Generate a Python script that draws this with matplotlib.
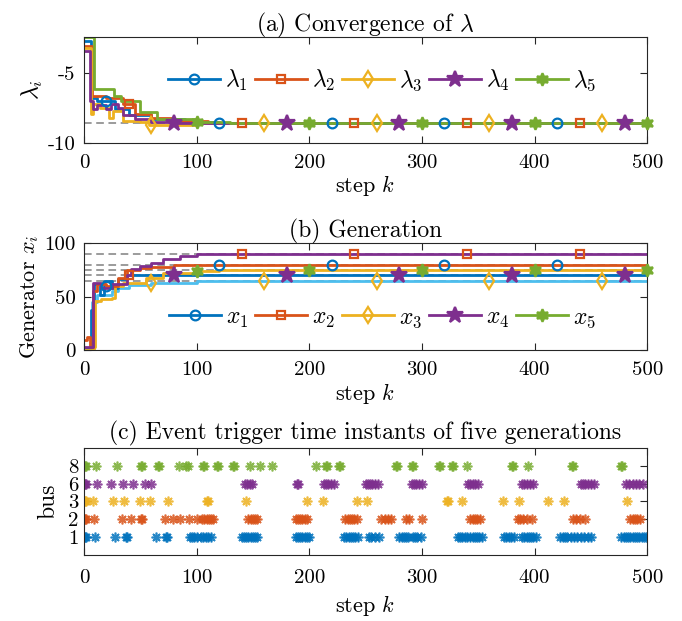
import numpy as np
import matplotlib
matplotlib.use("Agg")
from matplotlib import pyplot as plt
from matplotlib.lines import Line2D

plt.rcParams['font.family'] = 'serif'
plt.rcParams['font.serif'] = ['cmr10', 'DejaVu Serif']
plt.rcParams['mathtext.fontset'] = 'cm'
plt.rcParams['axes.unicode_minus'] = False
plt.rcParams['axes.formatter.use_mathtext'] = False

# MATLAB default colours
blue, orange, yellow, purple, green, lblue = '#0072BD', '#D95319', '#EDB120', '#7E2F8E', '#77AC30', '#4DBEEE'

# ---- (a) lambda trajectories (step breakpoints) ----
lam1_k = [0, 6, 12, 20, 28, 40, 60, 90, 120]
lam1_v = [-2.7, -6.8, -7.0, -7.0, -7.6, -8.0, -8.3, -8.5, -8.6]
lam2_k = [0, 7, 20, 35, 45, 60, 80, 110]
lam2_v = [-3.0, -6.6, -6.8, -7.2, -7.9, -8.2, -8.4, -8.6]
lam3_k = [0, 6, 8, 14, 22, 26, 35, 50, 58, 80, 100]
lam3_v = [-3.2, -7.9, -7.2, -7.5, -8.2, -7.7, -8.4, -8.5, -8.75, -8.7, -8.6]
lam4_k = [0, 5, 8, 12, 20, 24, 30, 35, 45, 60, 80]
lam4_v = [-3.4, -7.0, -7.6, -7.3, -7.6, -7.2, -7.5, -8.0, -8.3, -8.5, -8.55]
lam5_k = [0, 9, 27, 33, 50, 65, 100, 130]
lam5_v = [-2.4, -6.1, -6.6, -7.0, -7.8, -8.3, -8.5, -8.6]
lam_star = -8.6

# ---- (b) generation trajectories ----
x1_k = [0, 3, 5, 8, 12, 20, 30, 38, 50, 60, 80]
x1_v = [10, 12, 3, 55, 62, 60, 68, 75, 77, 78, 80]
x2_k = [0, 8, 15, 25, 38, 42, 50, 60, 70, 85, 100]
x2_v = [3, 63, 58, 62, 70, 76, 79, 82, 85, 88, 90]
x3_k = [0, 7, 12, 25, 30, 40, 60, 100]
x3_v = [0, 45, 52, 55, 58, 61, 63, 65]
x4_k = [0, 6, 9, 14, 18, 25, 30, 38]
x4_v = [2, 38, 62, 52, 65, 58, 67, 70]
x5_k = [0, 9, 10, 15, 25, 28, 35, 55, 70, 100, 120]
x5_v = [0, 3, 46, 48, 49, 60, 63, 68, 72, 74, 75]
x_star = [65, 70, 75, 80, 90]
x_line_colors = [orange, purple, lblue, blue, yellow]

# ---- (c) event trigger instants ----
bus_labels = ['1', '2', '3', '6', '8']
ev1 = [0, 1, 2, 10, 28, 37, 38, 64, 73, 74, 94, 96, 98, 100, 104, 106, 108, 110, 113,
       140, 142, 144, 146, 148, 150, 152, 154, 188, 190, 192, 194, 196, 198, 200,
       231, 233, 235, 237, 239, 241, 243, 253, 255, 258, 262, 280, 282, 284, 286, 288, 292, 294, 296, 299,
       332, 334, 336, 338, 340, 343, 345, 347, 349, 351, 353, 373, 375, 377, 379, 382,
       389, 391, 393, 395, 397, 399, 401, 423, 425, 427, 429, 432, 435, 438, 441, 444, 447, 450,
       477, 479, 481, 483, 485, 487, 489, 491, 493, 495, 497, 499]
ev2 = [0, 1, 2, 9, 34, 42, 51, 52, 72, 79, 85, 93, 100, 105, 107, 109, 111, 113, 115,
       146, 148, 150, 152, 154, 188, 190, 192, 194, 196, 198, 232, 234, 236, 238, 240, 242,
       264, 267, 270, 273, 286, 289, 300, 343, 345, 347, 349, 352, 385, 387, 390, 393, 398,
       434, 437, 440, 445, 485, 487, 489, 491, 494]
ev3 = [0, 1, 2, 8, 26, 36, 50, 59, 75, 109, 110, 144, 198, 212, 242, 251,
       322, 323, 336, 372, 386, 412, 426, 482]
ev4 = [0, 1, 2, 12, 24, 35, 44, 54, 60, 143, 145, 147, 149, 189, 190, 213, 215, 217, 219, 222,
       250, 252, 254, 256, 258, 261, 291, 293, 295, 297, 300, 341, 343, 345, 347, 350,
       389, 391, 393, 396, 399, 441, 443, 445, 447, 450, 453, 481, 484, 487, 490, 493, 496]
ev5 = [0, 1, 2, 11, 29, 51, 52, 66, 67, 84, 91, 92, 106, 107, 118, 119, 132, 133, 147, 156, 167,
       206, 215, 216, 226, 227, 277, 278, 291, 292, 315, 316, 327, 328, 340, 380, 381, 394, 433, 434, 477, 478]


def stepval(ks, vs, k):
    i = np.searchsorted(ks, k, side='right') - 1
    return vs[i]


def style(ax, lpad=1):
    ax.set_xlim(0, 500)
    ax.set_xticks([0, 100, 200, 300, 400, 500])
    ax.tick_params(direction='in', top=True, right=True, length=5, width=0.8,
                   labelsize=15, colors='#262626', labelcolor='black', pad=6)
    ax.tick_params(axis='x', pad=8)
    for s in ax.spines.values():
        s.set_color('#262626')
        s.set_linewidth(0.8)
    ax.set_xlabel('step $k$', fontsize=16, labelpad=lpad)


fig = plt.figure(figsize=(6.82, 6.21), dpi=100)

mk_style = [dict(marker='o', mfc='none'), dict(marker='s', mfc='none'),
            dict(marker='d', mfc='none'), dict(marker='*'), dict(marker=(6, 1, 0))]
mk_colors = [blue, orange, yellow, purple, green]
mk_sizes = [7, 6, 8, 12, 9]
LW = 2.0
MEW = 1.6

# ---------------- (a)
ax1 = fig.add_axes([0.123, 0.770, 0.826, 0.170])
ax1.axhline(lam_star, color='#808080', ls='--', lw=1.1, dashes=(5, 3), zorder=1)
lam_k = [lam1_k, lam2_k, lam3_k, lam4_k, lam5_k]
lam_v = [lam1_v, lam2_v, lam3_v, lam4_v, lam5_v]
handles = []
for i in range(5):
    ks = lam_k[i] + [500]
    vs = lam_v[i] + [lam_v[i][-1]]
    ax1.plot(ks, vs, drawstyle='steps-post', color=mk_colors[i], lw=LW, zorder=2)
for i in range(5):
    mks = np.arange(20 * (i + 1), 501, 100)
    ax1.plot(mks, [stepval(lam_k[i], lam_v[i], m) for m in mks], ls='none',
             color=mk_colors[i], ms=mk_sizes[i], mew=MEW, zorder=3, clip_on=False, **mk_style[i])
    handles.append(Line2D([], [], color=mk_colors[i], lw=LW, ms=mk_sizes[i], mew=MEW, **mk_style[i]))
ax1.set_ylim(-10, -2.4)
ax1.set_yticks([-10, -5])
style(ax1)
ax1.set_ylabel(r'$\lambda_i$', fontsize=17, labelpad=2)
ax1.set_title(r'(a) Convergence of $\lambda$', fontsize=17, pad=4)
ax1.legend(handles, [r'$\lambda_1$', r'$\lambda_2$', r'$\lambda_3$', r'$\lambda_4$', r'$\lambda_5$'],
           ncol=5, frameon=False, loc='center', bbox_to_anchor=(0.53, 0.59), fontsize=17,
           handlelength=2.2, columnspacing=0.3, handletextpad=0.2, borderpad=0.2)

# ---------------- (b)
ax2 = fig.add_axes([0.123, 0.436, 0.826, 0.172])
for v in x_star:
    ax2.axhline(v, color='#808080', ls='--', lw=1.1, dashes=(5, 3), zorder=1)
x_k = [x1_k, x2_k, x3_k, x4_k, x5_k]
x_v = [x1_v, x2_v, x3_v, x4_v, x5_v]
# line z-order as in the original (purple on top)
for i in [2, 3, 4, 0, 1]:
    ks = x_k[i] + [500]
    vs = x_v[i] + [x_v[i][-1]]
    ax2.plot(ks, vs, drawstyle='steps-post', color=x_line_colors[i], lw=LW, zorder=2)
handles = []
for i in range(5):
    mks = np.arange(20 * (i + 1), 501, 100)
    ax2.plot(mks, [stepval(x_k[i], x_v[i], m) for m in mks], ls='none',
             color=mk_colors[i], ms=mk_sizes[i], mew=MEW, zorder=3, clip_on=False, **mk_style[i])
    handles.append(Line2D([], [], color=mk_colors[i], lw=LW, ms=mk_sizes[i], mew=MEW, **mk_style[i]))
ax2.set_ylim(0, 100)
ax2.set_yticks([0, 50, 100])
style(ax2)
ax2.set_ylabel(r'Generator $x_i$', fontsize=16, labelpad=2)
ax2.set_title('(b) Generation', fontsize=17, pad=4)
ax2.legend(handles, [r'$x_1$', r'$x_2$', r'$x_3$', r'$x_4$', r'$x_5$'],
           ncol=5, frameon=False, loc='center', bbox_to_anchor=(0.53, 0.3), fontsize=17,
           handlelength=2.2, columnspacing=0.3, handletextpad=0.2, borderpad=0.2)

# ---------------- (c)
ax3 = fig.add_axes([0.123, 0.106, 0.826, 0.173])
evs = [ev1, ev2, ev3, ev4, ev5]
for i in range(5):
    ax3.plot(evs[i], [i + 1] * len(evs[i]), ls='none', marker=(8, 2, 0), ms=7, mew=1.2,
             color=mk_colors[i], alpha=0.85)
ax3.set_ylim(0, 6)
ax3.set_yticks([1, 2, 3, 4, 5])
ax3.set_yticklabels(bus_labels)
style(ax3, lpad=4)
ax3.tick_params(axis='y', labelsize=15, pad=4)
ax3.tick_params(axis='x', pad=10)
ax3.set_ylabel('bus', fontsize=17, labelpad=6)
ax3.set_title('(c) Event trigger time instants of five generations', fontsize=17, pad=6)

fig.savefig('out.png', dpi=100)
